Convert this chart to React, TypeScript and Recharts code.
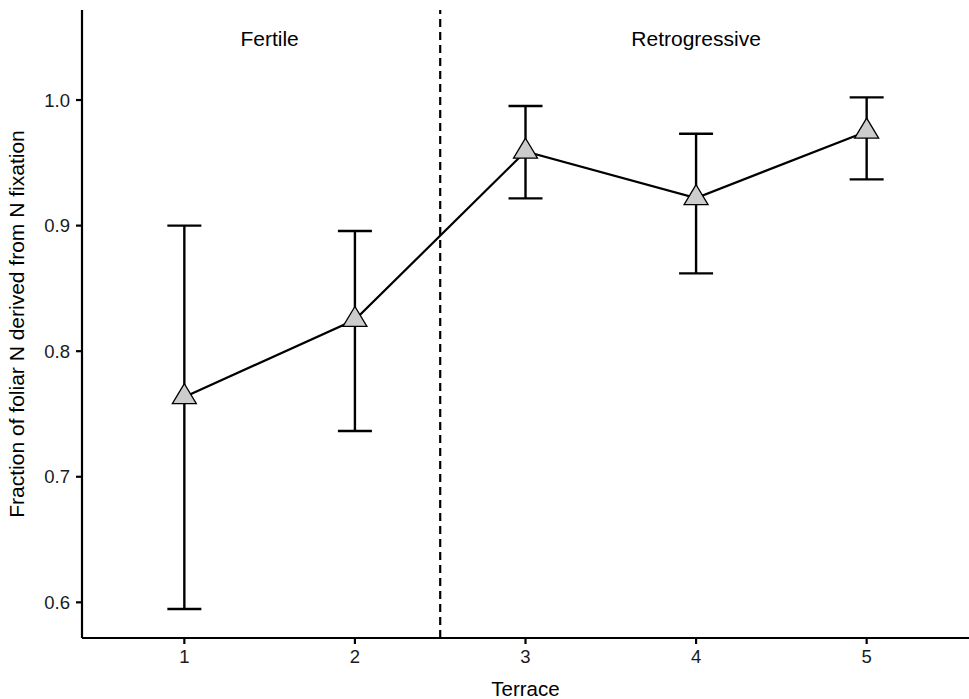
import React from 'react';
import { ComposedChart, Line, XAxis, YAxis, ErrorBar, ReferenceLine, ReferenceDot } from 'recharts';

const terraces = [1, 2, 3, 4, 5];
const means = [0.7635, 0.825, 0.959, 0.922, 0.975];
const lowers = [0.5947, 0.7365, 0.9217, 0.862, 0.9368];
const uppers = [0.9, 0.8957, 0.9952, 0.9732, 1.0021];
const yTicks = [0.6, 0.7, 0.8, 0.9, 1.0];
const xTicks = [1, 2, 3, 4, 5];
const zoneLabels = ['Fertile', 'Retrogressive'];
const zoneLabelX = [1.5, 4.0];
const zoneLabelY = 1.049;
const divider = 2.5;

const data = terraces.map((t, i) => ({
  x: t,
  mean: means[i],
  err: [means[i] - lowers[i], uppers[i] - means[i]],
}));

const FONT = '"Liberation Sans", Arial, Helvetica, sans-serif';

const Triangle = (props: any) => {
  const { cx, cy } = props;
  if (cx == null || cy == null) return null;
  const h = 20;
  const hw = 12;
  const pts = `${cx},${cy - (2 * h) / 3} ${cx - hw},${cy + h / 3} ${cx + hw},${cy + h / 3}`;
  return <polygon points={pts} fill="#cccccc" stroke="#000" strokeWidth={1.3} strokeLinejoin="miter" />;
};

export default function App() {
  return (
    <div style={{ position: 'absolute', left: 0, top: 0, width: 969, height: 699, background: '#fff' }}>
      <ComposedChart
        width={969}
        height={699}
        data={data}
        margin={{ top: 10, right: 0, bottom: 0, left: 0 }}
        style={{ fontFamily: FONT }}
      >
        <XAxis
          type="number"
          dataKey="x"
          domain={[0.4, 5.6]}
          ticks={xTicks}
          allowDataOverflow
          height={61}
          tickSize={6}
          tickMargin={6}
          axisLine={{ stroke: '#000', strokeWidth: 2.2 }}
          tickLine={{ stroke: '#000', strokeWidth: 2.2 }}
          tick={{ fill: '#1a1a1a', fontSize: 18.5, fontFamily: FONT }}
          label={{ value: 'Terrace', position: 'insideBottom', offset: 3, fill: '#000', fontSize: 20.5, fontFamily: FONT }}
        />
        <YAxis
          type="number"
          domain={[0.5716, 1.0717]}
          ticks={yTicks}
          allowDataOverflow
          width={82}
          tickSize={6}
          tickMargin={6}
          tickFormatter={(v: number) => v.toFixed(1)}
          axisLine={{ stroke: '#000', strokeWidth: 2.2 }}
          tickLine={{ stroke: '#000', strokeWidth: 2.2 }}
          tick={{ fill: '#1a1a1a', fontSize: 18.5, fontFamily: FONT }}
          label={{
            value: 'Fraction of foliar N derived from N fixation',
            angle: -90,
            position: 'insideLeft',
            dx: 12,
            style: { textAnchor: 'middle' },
            fill: '#000',
            fontSize: 21,
            fontFamily: FONT,
          }}
        />
        <ReferenceLine x={divider} stroke="#000" strokeWidth={2.2} strokeDasharray="8 5" ifOverflow="extendDomain" />
        {zoneLabels.map((lab, i) => (
          <ReferenceDot
            key={lab}
            x={zoneLabelX[i]}
            y={zoneLabelY}
            r={0}
            fill="none"
            stroke="none"
            label={{ value: lab, position: 'center', fill: '#000', fontSize: 21, fontFamily: FONT }}
          />
        ))}
        <Line
          type="linear"
          dataKey="mean"
          stroke="#000"
          strokeWidth={2.2}
          dot={<Triangle />}
          activeDot={false}
          isAnimationActive={false}
        >
          <ErrorBar dataKey="err" direction="y" width={17} stroke="#000" strokeWidth={2.4} isAnimationActive={false} />
        </Line>
      </ComposedChart>
    </div>
  );
}
